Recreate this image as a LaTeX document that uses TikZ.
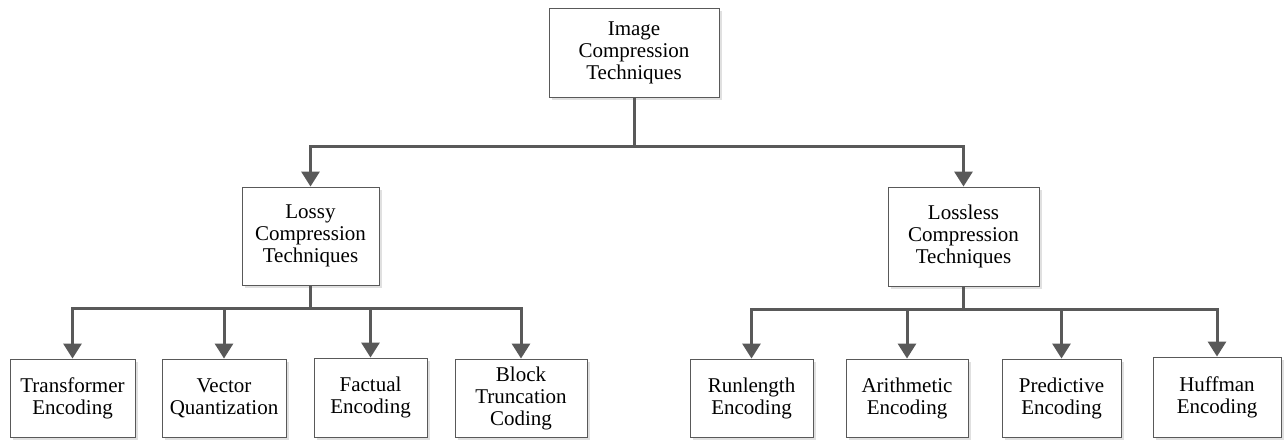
\documentclass[tikz,border=0pt]{standalone}
\usepackage{fontspec}
\setmainfont{Liberation Serif}
\newfontfamily\boxfont{Liberation Serif}
\usetikzlibrary{arrows.meta,shadows}
\begin{document}
\begin{tikzpicture}[x=1pt,y=-1pt,
  box/.style={draw=black!65, line width=0.9pt, fill=white, align=center,
    inner sep=0pt, font=\boxfont\fontsize{21}{22}\selectfont,
    drop shadow={shadow xshift=3pt, shadow yshift=-3pt, opacity=1, fill=black!12}},
  arr/.style={draw=black!65, line width=3pt,
    -{Triangle[width=18pt,length=15pt]}}
]
\useasboundingbox (0,0) rectangle (1286,440);
\node[box, minimum width=170pt, minimum height=89pt] (top) at (634,52.5) {Image\\Compression\\Techniques};
\node[box, minimum width=137pt, minimum height=98pt] (lossy) at (310.5,236) {Lossy\\Compression\\Techniques};
\node[box, minimum width=151pt, minimum height=99pt] (lossless) at (963.5,236.5) {Lossless\\Compression\\Techniques};
\node[box, minimum width=125pt, minimum height=78pt] (trans) at (72.5,398) {Transformer\\Encoding};
\node[box, minimum width=124pt, minimum height=78pt] (vect) at (224,398) {Vector\\Quantization};
\node[box, minimum width=113pt, minimum height=79pt] (fact) at (370.5,397.5) {Factual\\Encoding};
\node[box, minimum width=132pt, minimum height=78pt] (block) at (521,398) {Block\\Truncation\\Coding};
\node[box, minimum width=123pt, minimum height=78pt] (run) at (751.5,398) {Runlength\\Encoding};
\node[box, minimum width=122pt, minimum height=78pt] (arith) at (907,398) {Arithmetic\\Encoding};
\node[box, minimum width=119pt, minimum height=78pt] (pred) at (1061.5,398) {Predictive\\Encoding};
\node[box, minimum width=128pt, minimum height=80pt] (huff) at (1217,397) {Huffman\\Encoding};
\coordinate (j0) at (634,146);
\coordinate (j1) at (310.5,308);
\coordinate (j2) at (963.5,309);
\draw[line width=3pt, draw=black!65] (top.south) -- (j0);
\draw[arr] (j0) -| (lossy.north);
\draw[arr] (j0) -| (lossless.north);
\draw[line width=3pt, draw=black!65] (lossy.south) -- (j1);
\foreach \n in {trans,vect,fact,block}{\draw[arr] (j1) -| (\n.north);}
\draw[line width=3pt, draw=black!65] (lossless.south) -- (j2);
\foreach \n in {run,arith,pred,huff}{\draw[arr] (j2) -| (\n.north);}
\end{tikzpicture}
\end{document}
